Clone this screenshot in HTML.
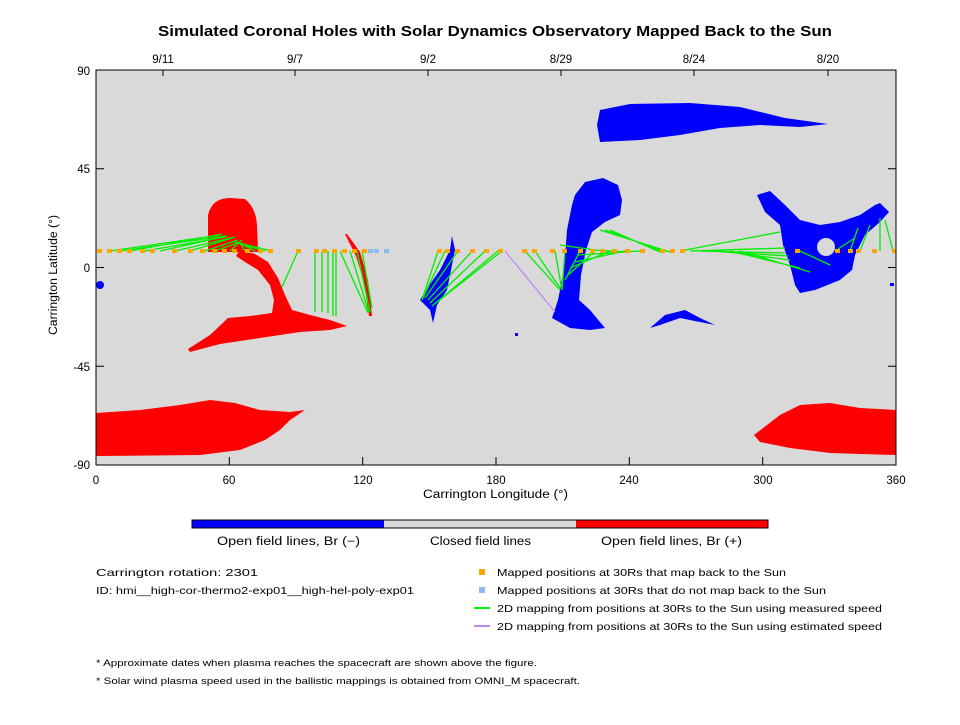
<!DOCTYPE html>
<html><head><style>
body{margin:0;background:#fff;}
svg text{font-family:"Liberation Sans",sans-serif;fill:#000;}
</style></head><body>
<svg width="960" height="720" xmlns="http://www.w3.org/2000/svg">
<rect width="960" height="720" fill="#fff"/>
<text x="158" y="36" font-size="15" font-weight="bold" textLength="674" lengthAdjust="spacingAndGlyphs">Simulated Coronal Holes with Solar Dynamics Observatory Mapped Back to the Sun</text>
<rect x="96" y="70" width="800" height="395" fill="#d9d9d9"/>
<!-- red -->
<g fill="#ff0000">
<path d="M208,252 L208,215 Q212,198 230,198 L245,199 Q256,208 257,225 L258,252 Z"/>
<polygon points="240,250 255,254 268,262 278,278 285,295 292,310 310,315 330,320 347,326 330,330 300,332 260,338 220,344 190,352 188,349 210,335 228,318 250,316 272,313 274,300 270,285 258,270 245,262 236,256"/>
<polygon points="345,234 347,234 360,252 368,280 372,316 369,316 364,282 356,256"/>
<polygon points="96,413 140,410 180,405 210,400 235,403 260,410 290,412 305,410 290,420 280,430 265,440 240,450 200,455 96,456"/>
<polygon points="754,435 780,415 800,405 830,403 860,408 896,410 896,455 830,453 790,448 760,442"/>
</g>
<!-- blue -->
<g fill="#0000ff">
<polygon points="600,110 630,104 690,103 740,107 785,118 828,124 800,127 760,125 720,128 680,135 640,140 600,142 597,125"/>
<polygon points="575,195 585,182 603,178 618,185 622,200 620,215 605,222 592,232 586,250 581,275 579,300 590,310 600,322 605,328 590,330 570,328 552,318 558,300 564,270 567,230 572,205"/>
<polygon points="452,236 455,250 447,290 437,305 433,323 430,310 420,300 426,290 440,270 450,250"/>
<polygon points="757,195 770,191 785,205 800,220 820,225 840,222 860,215 875,205 880,203 889,212 880,222 865,235 855,255 852,270 840,280 815,290 800,293 795,285 790,265 783,245 780,225 765,212"/>
<polygon points="650,328 665,315 685,310 700,318 715,325 700,322 680,318 660,325"/>
<circle cx="100" cy="285" r="4"/>
<rect x="890" y="283" width="4" height="3"/><rect x="515" y="333" width="3" height="3"/>
</g>
<circle cx="826" cy="247" r="9" fill="#d9d9d9"/>
<!-- green lines -->
<g stroke="#00ee00" stroke-width="1.3" fill="none">
<path d="M110,251 L220,235 M120,251 L225,236 M130,251 L222,234 M145,251 L225,237 M160,251 L228,236 M175,251 L235,237 M190,251 L232,238 M205,251 L238,240 M215,251 L240,242 M230,251 L242,240 M245,251 L240,243 M255,251 L238,242 M265,251 L240,244 M272,251 L235,242"/>
<path d="M298,251 L282,287 M315,251 L315,312 M322,251 L322,312 M328,251 L328,313 M333,251 L333,316 M336,251 L336,316 M340,251 L368,313 M350,251 L369,313 M357,251 L370,312 M362,251 L372,308"/>
<path d="M438,251 L422,300 M445,251 L422,300 M458,251 L425,298 M472,251 L428,300 M485,251 L430,303 M498,251 L432,306 M502,251 L432,306"/>
<path d="M525,251 L560,290 M535,251 L560,288 M555,251 L562,290 M565,251 L562,290 M580,251 L565,280 M595,251 L568,275 M610,251 L570,268 M625,251 L575,262 M640,251 L578,255 M560,245 L595,250 L625,252 M600,230 L670,252 M605,230 L665,252 M610,230 L660,252"/>
<path d="M680,251 L780,232 M690,251 L785,248 M700,251 L785,253 M710,251 L788,256 M720,251 L790,260 M730,251 L800,268 M740,251 L810,272 M800,251 L830,265 M835,251 L855,238 M850,251 L858,228 M860,251 L870,225 M880,251 L880,218 M893,251 L885,220"/>
</g>
<path d="M505,251 L555,312" stroke="#bb88ee" stroke-width="1.3"/>
<!-- points -->
<g fill="#ffa500">
<rect x="97" y="249" width="5" height="4"/><rect x="107" y="249" width="5" height="4"/><rect x="117" y="249" width="5" height="4"/><rect x="127" y="249" width="5" height="4"/><rect x="140" y="249" width="5" height="4"/><rect x="150" y="249" width="5" height="4"/><rect x="172" y="249" width="5" height="4"/><rect x="188" y="249" width="5" height="4"/><rect x="200" y="249" width="5" height="4"/><rect x="212" y="249" width="5" height="4"/><rect x="222" y="249" width="5" height="4"/><rect x="232" y="249" width="5" height="4"/><rect x="245" y="249" width="5" height="4"/><rect x="258" y="249" width="5" height="4"/><rect x="268" y="249" width="5" height="4"/><rect x="296" y="249" width="5" height="4"/><rect x="314" y="249" width="5" height="4"/><rect x="322" y="249" width="5" height="4"/><rect x="332" y="249" width="5" height="4"/><rect x="342" y="249" width="5" height="4"/><rect x="352" y="249" width="5" height="4"/><rect x="362" y="249" width="5" height="4"/>
<rect x="437" y="249" width="5" height="4"/><rect x="445" y="249" width="5" height="4"/><rect x="455" y="249" width="5" height="4"/><rect x="470" y="249" width="5" height="4"/><rect x="484" y="249" width="5" height="4"/><rect x="498" y="249" width="5" height="4"/><rect x="522" y="249" width="5" height="4"/><rect x="532" y="249" width="5" height="4"/><rect x="550" y="249" width="5" height="4"/><rect x="562" y="249" width="5" height="4"/><rect x="578" y="249" width="5" height="4"/><rect x="590" y="249" width="5" height="4"/><rect x="600" y="249" width="5" height="4"/><rect x="612" y="249" width="5" height="4"/><rect x="625" y="249" width="5" height="4"/><rect x="640" y="249" width="5" height="4"/><rect x="660" y="249" width="5" height="4"/><rect x="670" y="249" width="5" height="4"/><rect x="680" y="249" width="5" height="4"/><rect x="795" y="249" width="5" height="4"/><rect x="835" y="249" width="5" height="4"/><rect x="848" y="249" width="5" height="4"/><rect x="856" y="249" width="5" height="4"/><rect x="872" y="249" width="5" height="4"/><rect x="892" y="249" width="4" height="4"/>
</g>
<g fill="#88bbee"><rect x="368" y="249" width="5" height="4"/><rect x="374" y="249" width="5" height="4"/><rect x="384" y="249" width="5" height="4"/></g>
<!-- axes -->
<rect x="96" y="70" width="800" height="395" fill="none" stroke="#000" stroke-width="1"/>
<g stroke="#000" stroke-width="1">
<path d="M96,168.75H104 M96,267.5H104 M96,366.25H104 M888,168.75H896 M888,267.5H896 M888,366.25H896"/>
<path d="M229.3,465V457 M362.7,465V457 M496,465V457 M629.3,465V457 M762.7,465V457"/>
<path d="M163,70V76 M295,70V76 M428,70V76 M561,70V76 M694,70V76 M828,70V76"/>
</g>
<g font-size="11.5" text-anchor="end">
<text x="90" y="75">90</text><text x="90" y="173">45</text><text x="90" y="272">0</text><text x="90" y="371">-45</text><text x="90" y="469">-90</text>
</g>
<g font-size="11.5" text-anchor="middle">
<text x="96" y="484">0</text><text x="229" y="484">60</text><text x="363" y="484">120</text><text x="496" y="484">180</text><text x="629" y="484">240</text><text x="763" y="484">300</text><text x="896" y="484">360</text>
<text x="163" y="63">9/11</text><text x="295" y="63">9/7</text><text x="428" y="63">9/2</text><text x="561" y="63">8/29</text><text x="694" y="63">8/24</text><text x="828" y="63">8/20</text>
</g>
<text x="423" y="498" font-size="11.5" textLength="145" lengthAdjust="spacingAndGlyphs">Carrington Longitude (°)</text>
<text transform="translate(57,335) rotate(-90)" font-size="11.5" textLength="120" lengthAdjust="spacingAndGlyphs">Carrington Latitude (°)</text>
<!-- colorbar -->
<rect x="192" y="520" width="192" height="8" fill="#0000ff"/>
<rect x="384" y="520" width="192" height="8" fill="#d9d9d9"/>
<rect x="576" y="520" width="192" height="8" fill="#ff0000"/>
<rect x="192" y="520" width="576" height="8" fill="none" stroke="#000"/>
<g font-size="11.5" lengthAdjust="spacingAndGlyphs">
<text x="217" y="545" textLength="143" lengthAdjust="spacingAndGlyphs">Open field lines, Br (−)</text>
<text x="430" y="545" textLength="101" lengthAdjust="spacingAndGlyphs">Closed field lines</text>
<text x="601" y="545" textLength="141" lengthAdjust="spacingAndGlyphs">Open field lines, Br (+)</text>
</g>
<g font-size="10.5">
<text x="96" y="576" textLength="162" lengthAdjust="spacingAndGlyphs">Carrington rotation: 2301</text>
<text x="96" y="594" textLength="318" lengthAdjust="spacingAndGlyphs">ID: hmi__high-cor-thermo2-exp01__high-hel-poly-exp01</text>
<text x="497" y="576" textLength="289" lengthAdjust="spacingAndGlyphs">Mapped positions at 30Rs that map back to the Sun</text>
<text x="497" y="594" textLength="329" lengthAdjust="spacingAndGlyphs">Mapped positions at 30Rs that do not map back to the Sun</text>
<text x="497" y="612" textLength="385" lengthAdjust="spacingAndGlyphs">2D mapping from positions at 30Rs to the Sun using measured speed</text>
<text x="497" y="630" textLength="385" lengthAdjust="spacingAndGlyphs">2D mapping from positions at 30Rs to the Sun using estimated speed</text>
<text x="96" y="666" font-size="9.5" textLength="441" lengthAdjust="spacingAndGlyphs">* Approximate dates when plasma reaches the spacecraft are shown above the figure.</text>
<text x="96" y="684" font-size="9.5" textLength="484" lengthAdjust="spacingAndGlyphs">* Solar wind plasma speed used in the ballistic mappings is obtained from OMNI_M spacecraft.</text>
</g>
<rect x="479" y="569" width="6" height="6" fill="#ffa500"/>
<rect x="479" y="587" width="6" height="6" fill="#88bbee"/>
<rect x="474" y="607" width="16" height="2" fill="#00ee00"/>
<rect x="474" y="625" width="16" height="2" fill="#bb88ee"/>
</svg>
</body></html>
